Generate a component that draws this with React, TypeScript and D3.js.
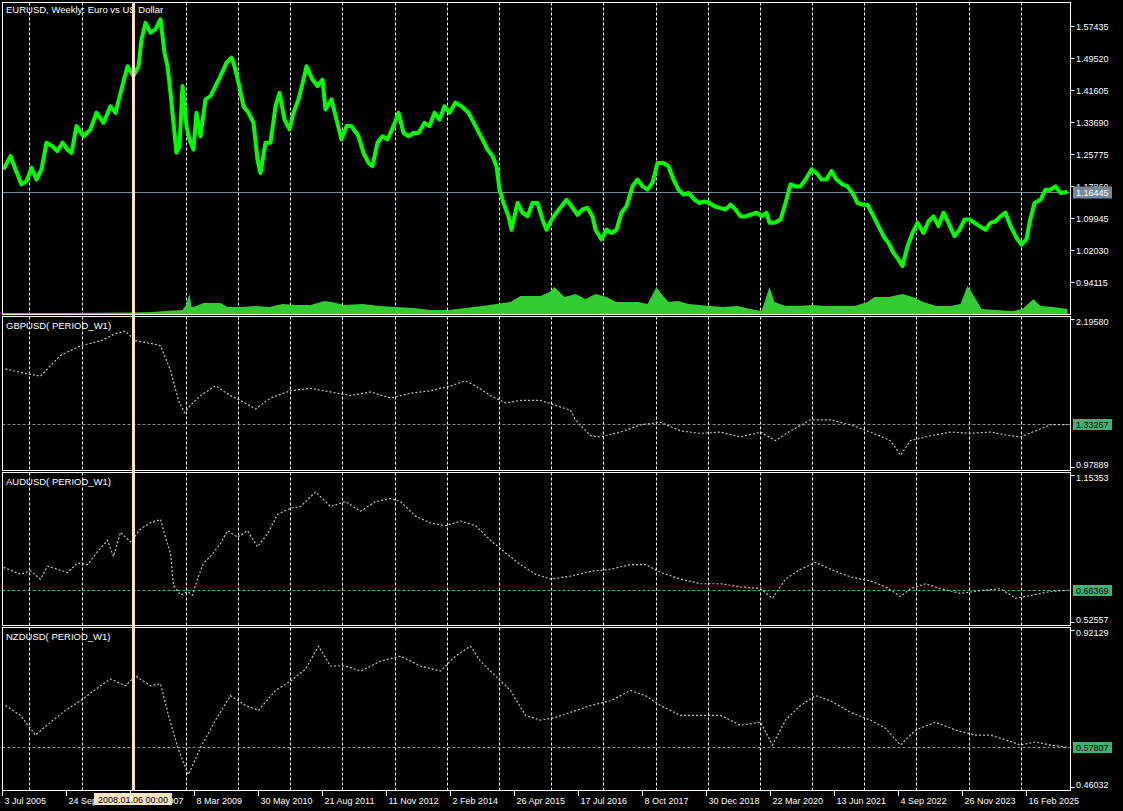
import React from 'react';
import * as d3 from 'd3';

const START_DATE = '2005-07-03';
const CURSOR_DATE = '2008-01-06';
const CURSOR_LABEL = '2008.01.06 00:00';
const TITLE = 'EURUSD, Weekly:  Euro vs US Dollar';

// EURUSD weekly close (week offset from START_DATE)
const eurWeeks = [1,8,13,19,24,29,34,39,44,50,55,60,65,69,74,81,88,94,101,108,113,119,125,131,136,139,143,148,153,158,162,165,168,172,174,177,180,184,187,191,194,198,203,208,213,218,224,229,232,236,241,246,251,255,258,263,268,273,277,282,287,291,296,301,304,310,315,320,323,329,334,339,344,349,356,361,366,370,375,380,385,391,396,401,406,411,416,422,427,432,437,442,447,453,459,466,473,480,485,490,494,497,501,506,509,515,520,525,530,535,540,544,549,554,559,564,569,575,580,585,590,593,599,604,609,614,619,624,630,635,640,645,650,655,661,666,671,676,681,686,692,697,702,707,712,717,723,728,733,738,743,748,754,759,764,767,772,778,783,788,793,798,803,809,814,819,824,829,834,840,845,850,855,860,865,871,876,881,886,891,896,900,905,910,915,921,926,931,936,941,946,952,957,962,967,972,977,983,988,993,998,1003,1008,1014,1019,1024,1027,1032,1038,1043,1048,1053,1058,1065];
const eurClose = [1.220,1.253,1.220,1.183,1.191,1.224,1.195,1.220,1.286,1.277,1.265,1.286,1.269,1.261,1.327,1.302,1.319,1.360,1.335,1.376,1.360,1.418,1.475,1.451,1.475,1.541,1.582,1.558,1.566,1.591,1.508,1.475,1.409,1.310,1.261,1.277,1.426,1.327,1.294,1.269,1.360,1.302,1.393,1.401,1.426,1.451,1.484,1.496,1.475,1.434,1.376,1.360,1.335,1.244,1.211,1.286,1.286,1.376,1.409,1.343,1.319,1.360,1.393,1.442,1.475,1.442,1.426,1.442,1.368,1.393,1.343,1.294,1.327,1.327,1.302,1.261,1.236,1.228,1.286,1.302,1.294,1.327,1.360,1.310,1.302,1.310,1.310,1.335,1.327,1.360,1.343,1.376,1.360,1.385,1.376,1.360,1.327,1.294,1.269,1.253,1.228,1.170,1.137,1.104,1.071,1.137,1.113,1.104,1.137,1.137,1.096,1.071,1.096,1.113,1.129,1.145,1.129,1.108,1.121,1.125,1.104,1.071,1.047,1.071,1.063,1.071,1.113,1.129,1.178,1.195,1.178,1.170,1.187,1.236,1.236,1.228,1.195,1.170,1.158,1.162,1.145,1.137,1.141,1.137,1.129,1.125,1.121,1.133,1.121,1.104,1.104,1.108,1.113,1.104,1.113,1.088,1.088,1.096,1.137,1.183,1.178,1.178,1.195,1.220,1.211,1.195,1.195,1.216,1.195,1.183,1.178,1.162,1.137,1.133,1.133,1.104,1.080,1.055,1.038,1.014,0.997,0.981,1.030,1.063,1.088,1.063,1.092,1.104,1.080,1.113,1.088,1.055,1.071,1.096,1.096,1.088,1.080,1.071,1.088,1.092,1.104,1.113,1.080,1.051,1.034,1.047,1.088,1.137,1.145,1.170,1.170,1.178,1.162,1.16445];

// Tick volume (thousands)
const volWeeks = [0,60,130,150,163,180,183,187,189,191,201,218,225,239,253,267,280,294,308,322,329,342,360,377,394,411,428,446,463,480,494,508,518,528,538,547,552,562,573,583,593,604,614,624,635,645,654,659,666,676,686,697,707,721,735,748,759,767,772,783,797,810,824,838,852,865,872,886,900,910,921,934,948,958,965,972,979,993,1010,1020,1031,1038,1051,1065];
const volValues = [10,10,15,20,30,40,80,200,70,70,110,110,70,70,80,70,100,90,90,130,120,90,100,80,70,60,40,40,60,80,100,120,180,180,180,220,270,170,200,150,200,170,120,120,120,100,270,200,120,130,100,90,80,70,80,50,30,270,120,80,80,90,80,80,80,120,170,170,200,170,120,80,80,100,280,170,50,40,30,50,150,80,70,50];

const gbpWeeks = [3,18,38,58,78,98,113,123,133,148,158,168,176,182,188,198,213,228,238,253,268,288,308,328,348,368,388,408,428,448,463,473,488,503,518,538,553,568,573,588,598,618,638,658,678,698,718,738,758,773,788,808,828,848,868,888,898,908,928,948,968,988,1008,1018,1033,1048,1065];
const gbpValues = [1.79,1.76,1.73,1.90,1.98,2.02,2.08,2.10,2.02,2.00,1.98,1.78,1.53,1.43,1.49,1.57,1.65,1.57,1.53,1.46,1.55,1.61,1.63,1.60,1.57,1.60,1.55,1.59,1.61,1.65,1.69,1.65,1.57,1.51,1.53,1.53,1.49,1.45,1.37,1.24,1.23,1.27,1.33,1.35,1.28,1.26,1.27,1.23,1.27,1.20,1.28,1.37,1.37,1.33,1.27,1.20,1.08,1.20,1.24,1.27,1.26,1.27,1.24,1.23,1.28,1.33,1.33267];

const audWeeks = [1,18,28,38,45,55,65,75,85,95,105,111,118,128,138,148,158,163,168,171,178,185,190,195,201,208,218,225,235,245,255,265,275,288,298,313,318,328,343,358,373,388,398,413,428,443,458,473,488,503,518,533,548,568,588,608,628,643,658,678,698,718,738,758,770,783,798,813,828,848,868,883,898,908,923,938,958,978,998,1013,1028,1048,1065];
const audValues = [0.761,0.732,0.746,0.711,0.766,0.753,0.739,0.780,0.773,0.828,0.877,0.808,0.911,0.870,0.925,0.952,0.966,0.890,0.821,0.684,0.643,0.657,0.643,0.711,0.780,0.808,0.863,0.918,0.890,0.918,0.849,0.904,0.987,1.014,1.021,1.083,1.063,1.021,1.042,1.001,1.042,1.055,1.042,0.980,0.951,0.939,0.959,0.939,0.877,0.823,0.773,0.732,0.711,0.724,0.744,0.753,0.773,0.773,0.740,0.711,0.691,0.691,0.678,0.670,0.629,0.711,0.753,0.782,0.753,0.720,0.703,0.678,0.637,0.670,0.691,0.670,0.650,0.662,0.670,0.629,0.641,0.658,0.66369];

const nzdWeeks = [3,18,33,48,63,78,98,108,123,133,148,158,166,176,186,198,213,228,243,256,273,288,303,316,328,343,358,378,398,418,438,453,468,478,493,508,523,538,553,568,588,608,628,643,658,678,698,718,738,758,770,783,798,813,828,848,868,883,898,913,933,953,973,988,1003,1018,1033,1048,1065];
const nzdValues = [0.701,0.672,0.614,0.652,0.687,0.715,0.759,0.779,0.759,0.788,0.759,0.765,0.672,0.571,0.498,0.577,0.658,0.730,0.701,0.687,0.745,0.773,0.808,0.875,0.817,0.817,0.802,0.831,0.846,0.817,0.802,0.846,0.875,0.831,0.788,0.745,0.672,0.658,0.666,0.681,0.701,0.715,0.745,0.730,0.701,0.672,0.672,0.672,0.643,0.652,0.585,0.658,0.701,0.730,0.715,0.681,0.658,0.634,0.585,0.629,0.652,0.629,0.614,0.614,0.600,0.585,0.594,0.585,0.57807];

const eurTicks = ['1.57435','1.49520','1.41605','1.33690','1.25775','1.17860','1.09945','1.02030','0.94115'];
const eurLast = 1.16445;

const subPanels = [
  { name: 'GBPUSD( PERIOD_W1)', weeks: gbpWeeks, values: gbpValues, min: 0.97889, max: 2.19580, minLabel: '0.97889', maxLabel: '2.19580', last: 1.33267, lastLabel: '1.33267', lineColor: '#8a8a8a' },
  { name: 'AUDUSD( PERIOD_W1)', weeks: audWeeks, values: audValues, min: 0.52557, max: 1.15353, minLabel: '0.52557', maxLabel: '1.15353', last: 0.66369, lastLabel: '0.66369', lineColor: '#3cb371' },
  { name: 'NZDUSD( PERIOD_W1)', weeks: nzdWeeks, values: nzdValues, min: 0.46032, max: 0.92129, minLabel: '0.46032', maxLabel: '0.92129', last: 0.57807, lastLabel: '0.57807', lineColor: '#8a8a8a' },
];

const LABEL_STEP_WEEKS = 64;
const FIRST_GRID_YEAR = 2006;
const LAST_GRID_YEAR = 2025;

const FONT = "'Liberation Sans', Arial, sans-serif";

export default function App() {
  const W = 1123, H = 811;
  const left = 2.5, right = 1070.5;
  const start = new Date(START_DATE + 'T00:00:00Z');
  const wd = (w: number) => d3.utcWeek.offset(start, w);
  const x = d3.scaleUtc().domain([start, wd(1)]).range([2.5, 3.5]);

  const panels = [
    { top: 2.5, bottom: 314.5 },
    { top: 316.5, bottom: 470.5 },
    { top: 472.5, bottom: 625.5 },
    { top: 627.5, bottom: 790.5 },
  ];

  const yEur = d3.scaleLinear().domain([0.94115, 1.57435]).range([282.3, 26]);
  const yVol = d3.scaleLinear().domain([0, 300]).range([314, 284]);

  const eurLine = d3.line<number>().x((_, i) => x(wd(eurWeeks[i]))).y((d) => yEur(d)).curve(d3.curveLinear);
  const volArea = d3.area<number>().x((_, i) => x(wd(volWeeks[i]))).y0(yVol(0)).y1((d) => yVol(d));

  const gridDates = d3.range(FIRST_GRID_YEAR, LAST_GRID_YEAR + 1).map((yr) => d3.utcSunday.ceil(new Date(Date.UTC(yr, 0, 1))));
  const endDate = x.invert(right);
  const labelDates: Date[] = [];
  for (let k = 0; ; k++) {
    const d = wd(k * LABEL_STEP_WEEKS);
    if (d > endDate) break;
    labelDates.push(d);
  }
  const fmt = d3.utcFormat('%-d %b %Y');
  const cursorX = x(new Date(CURSOR_DATE + 'T00:00:00Z'));

  const grid = (p: { top: number; bottom: number }, key: string) =>
    gridDates.map((d, i) => (
      <line key={key + i} x1={Math.round(x(d)) + 0.5} x2={Math.round(x(d)) + 0.5} y1={p.top} y2={p.bottom}
        stroke="#ffffff" strokeWidth={1} strokeDasharray="3,2" />
    ));

  return (
    <svg width={W} height={H} style={{ position: 'absolute', left: 0, top: 0, background: '#000' }} fontFamily={FONT}>
      <rect x={0} y={0} width={W} height={H} fill="#000" />
      <defs>
        {panels.map((p, i) => (
          <clipPath id={'clip' + i} key={i}>
            <rect x={left} y={p.top} width={right - left} height={p.bottom - p.top} />
          </clipPath>
        ))}
      </defs>

      {/* Panel 1 */}
      <g clipPath="url(#clip0)">
        {grid(panels[0], 'g0')}
        <line x1={left} x2={right} y1={Math.round(yEur(eurLast)) + 0.5} y2={Math.round(yEur(eurLast)) + 0.5} stroke="#778899" strokeWidth={1} />
        <path d={volArea(volValues) || ''} fill="#32cd32" />
        <path d={eurLine(eurClose) || ''} fill="none" stroke="#00ff00" strokeWidth={4} strokeLinejoin="round" />
      </g>
      <text x={6} y={13} fill="#fff" fontSize={9.5}>{TITLE}</text>

      {/* Sub panels */}
      {subPanels.map((sp, i) => {
        const p = panels[i + 1];
        const y = d3.scaleLinear().domain([sp.min, sp.max]).range([p.bottom - 3, p.top + 3]);
        const line = d3.line<number>().x((_, j) => x(wd(sp.weeks[j]))).y((d) => y(d));
        const ly = Math.round(y(sp.last)) + 0.5;
        return (
          <g key={'sp' + i}>
            <g clipPath={`url(#clip${i + 1})`}>
              {grid(p, 'g' + (i + 1))}
              <line x1={left} x2={right} y1={ly} y2={ly} stroke={sp.lineColor} strokeWidth={1} strokeDasharray="3,2" />
              <path d={line(sp.values) || ''} fill="none" stroke="#c0c0c0" strokeWidth={1.2} strokeDasharray="2,2" />
            </g>
            <text x={6} y={p.top + 12} fill="#fff" fontSize={9.5}>{sp.name}</text>
            {/* axis labels */}
            <line x1={right} x2={right + 4} y1={p.top + 3} y2={p.top + 3} stroke="#fff" />
            <text x={1076} y={p.top + 3 + 2.5} fill="#fff" fontSize={9} dominantBaseline="central">{sp.maxLabel}</text>
            <line x1={right} x2={right + 4} y1={p.bottom - 3} y2={p.bottom - 3} stroke="#fff" />
            <text x={1076} y={p.bottom - 3 - 3} fill="#fff" fontSize={9} dominantBaseline="central">{sp.minLabel}</text>
            <rect x={1073} y={ly - 5.5} width={39} height={11} fill="#3cb371" />
            <text x={1076} y={ly} fill="#000" fontSize={9} dominantBaseline="central">{sp.lastLabel}</text>
          </g>
        );
      })}

      {/* Panel 1 price axis */}
      {eurTicks.map((t, i) => {
        const yy = Math.round(yEur(+t)) + 0.5;
        return (
          <g key={'t' + i}>
            <line x1={right} x2={right + 4} y1={yy} y2={yy} stroke="#fff" />
            <text x={1076} y={yy} fill="#fff" fontSize={9} dominantBaseline="central">{t}</text>
          </g>
        );
      })}
      <rect x={1073} y={Math.round(yEur(eurLast)) - 5.5} width={39} height={12} fill="#778899" />
      <text x={1076} y={Math.round(yEur(eurLast)) + 0.5} fill="#fff" fontSize={9} dominantBaseline="central">{eurLast.toFixed(5)}</text>

      {/* Panel borders */}
      {panels.map((p, i) => (
        <rect key={'b' + i} x={left} y={p.top} width={right - left} height={p.bottom - p.top} fill="none" stroke="#fff" strokeWidth={1} />
      ))}

      {/* Time axis */}
      {labelDates.map((d, i) => {
        const xx = Math.round(x(d)) - 0.5;
        return (
          <g key={'l' + i}>
            <line x1={xx} x2={xx} y1={791} y2={796} stroke="#fff" />
            <text x={xx + 2} y={804} fill="#fff" fontSize={9}>{fmt(d)}</text>
          </g>
        );
      })}

      {/* Cursor */}
      <rect x={cursorX - 1.5} y={2} width={3} height={789} fill="#ffe4c4" />
      <rect x={94} y={793} width={78} height={12} fill="#ffe4c4" />
      <text x={133} y={799.5} fill="#000" fontSize={9} textAnchor="middle" dominantBaseline="central">{CURSOR_LABEL}</text>
    </svg>
  );
}
